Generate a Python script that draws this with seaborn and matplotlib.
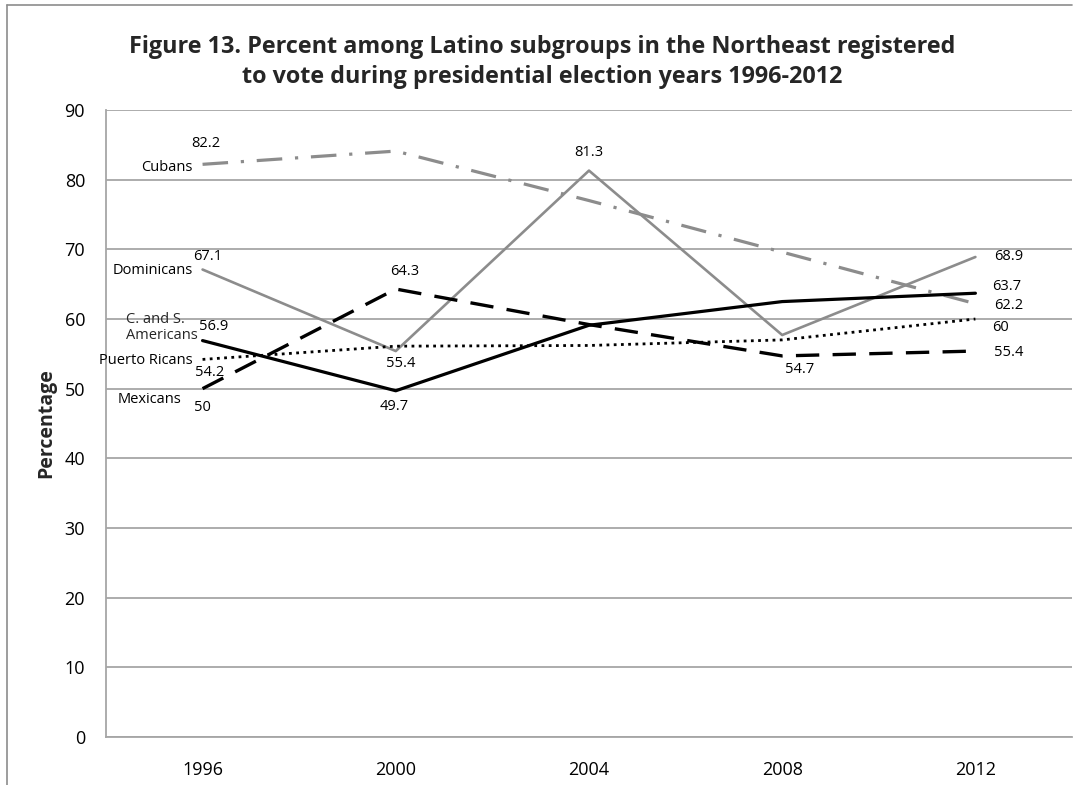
import pandas as pd
import numpy as np
import matplotlib
matplotlib.use('Agg')
import matplotlib.pyplot as plt
import seaborn as sns
from matplotlib.lines import Line2D

# data
years = ['1996', '2000', '2004', '2008', '2012']
cubans = [82.2, 84.1, 77.0, 69.6, 62.2]
dominicans = [67.1, 55.4, 81.3, 57.7, 68.9]
cs_americans = [56.9, 49.7, 59.1, 62.5, 63.7]
puerto_ricans = [54.2, 56.1, 56.2, 57.0, 60.0]
mexicans = [50.0, 64.3, 59.2, 54.7, 55.4]

groups = ['Cubans', 'Dominicans', 'C. and S.\nAmericans', 'Puerto Ricans', 'Mexicans']
series = [cubans, dominicans, cs_americans, puerto_ricans, mexicans]

rows = []
for g, vals in zip(groups, series):
    for i, v in enumerate(vals):
        rows.append({'idx': i, 'year': years[i], 'value': v, 'group': g})
df = pd.DataFrame(rows)

sns.set_theme(style='white')
plt.rcParams['font.family'] = ['Open Sans', 'DejaVu Sans']

fig = plt.figure(figsize=(10.8, 7.85), dpi=100)
ax = fig.add_axes([0.0981, 0.0611, 0.8945, 0.7988])

gray = '#8c8c8c'
palette = {'Cubans': gray, 'Dominicans': gray, 'C. and S.\nAmericans': 'black',
           'Puerto Ricans': 'black', 'Mexicans': 'black'}
dashes = {'Cubans': (8, 4, 1, 4), 'Dominicans': '', 'C. and S.\nAmericans': '',
          'Puerto Ricans': (1, 1.6), 'Mexicans': (7, 4)}
sizes = {'Cubans': 2.3, 'Dominicans': 1.9, 'C. and S.\nAmericans': 2.3,
         'Puerto Ricans': 2.0, 'Mexicans': 2.4}

sns.lineplot(data=df, x='idx', y='value', hue='group', style='group', size='group',
             palette=palette, dashes=dashes, sizes=sizes, hue_order=groups,
             style_order=groups, size_order=groups, legend=False, ax=ax, zorder=3)

ax.set_xlim(-0.5, 4.5)
ax.set_ylim(0, 90)
ax.set_yticks(range(0, 91, 10))
ax.set_xticks(range(len(years)))
ax.set_xticklabels(years)
ax.tick_params(axis='both', labelsize=13, length=0, colors='black')
ax.tick_params(axis='y', pad=15)
ax.tick_params(axis='x', pad=17)
ax.yaxis.grid(True, color='#a6a6a6', lw=1.3)
ax.set_axisbelow(True)
for s in ['top', 'right']:
    ax.spines[s].set_visible(False)
for s in ['left', 'bottom']:
    ax.spines[s].set_color('#a6a6a6')
    ax.spines[s].set_linewidth(1.3)
ax.set_xlabel('')
ax.set_ylabel('Percentage', fontsize=14, fontweight='bold', labelpad=6)

# offsets in pixels (dx, dy) converted to points
k = 72 / 100
def lab(i, v, text, dx, dy, ha='center'):
    ax.annotate(text, (i, v), xytext=(dx * k, dy * k), textcoords='offset points',
                ha=ha, va='center', fontsize=10.5, color='black', zorder=5)

# series names at the start
lab(0, cubans[0], 'Cubans', -10, -3, 'right')
lab(0, dominicans[0], 'Dominicans', -10, -1, 'right')
ax.annotate('C. and S.\nAmericans', (0, cs_americans[0]), xytext=(-5 * k, 13 * k),
            textcoords='offset points', ha='right', va='center', multialignment='left',
            fontsize=10.5, linespacing=1.15)
lab(0, puerto_ricans[0], 'Puerto Ricans', -10, -1, 'right')
lab(0, mexicans[0], 'Mexicans', -21, -11, 'right')

# value labels
lab(0, cubans[0], '82.2', 3, 21)
lab(0, dominicans[0], '67.1', 5, 13)
lab(0, cs_americans[0], '56.9', 11, 14)
lab(0, puerto_ricans[0], '54.2', 7, -13)
lab(0, mexicans[0], '50', 0, -19)
lab(1, mexicans[1], '64.3', 9, 18)
lab(1, dominicans[1], '55.4', 5, -12)
lab(1, cs_americans[1], '49.7', -2, -16)
lab(2, dominicans[2], '81.3', 0, 18)
lab(3, mexicans[3], '54.7', 17, -14)
lab(4, dominicans[4], '68.9', 19, 0, 'left')
lab(4, cs_americans[4], '63.7', 17, 7, 'left')
lab(4, cubans[4], '62.2', 19, -2, 'left')
lab(4, puerto_ricans[4], '60', 17, -9, 'left')
lab(4, mexicans[4], '55.4', 19, -1, 'left')

fig.text(0.502, 0.921, 'Figure 13. Percent among Latino subgroups in the Northeast registered\n'
         'to vote during presidential election years 1996-2012',
         ha='center', va='center', fontsize=16.8, fontweight='bold', linespacing=1.3)

# outer chart border (cropped at right and bottom)
fig.add_artist(Line2D([7 / 1080, 7 / 1080], [0, 1 - 5 / 785], color='#8c8c8c', lw=1.2,
                      transform=fig.transFigure))
fig.add_artist(Line2D([7 / 1080, 1072 / 1080], [1 - 5 / 785, 1 - 5 / 785], color='#8c8c8c',
                      lw=1.2, transform=fig.transFigure))

fig.savefig('out.png', dpi=100)
